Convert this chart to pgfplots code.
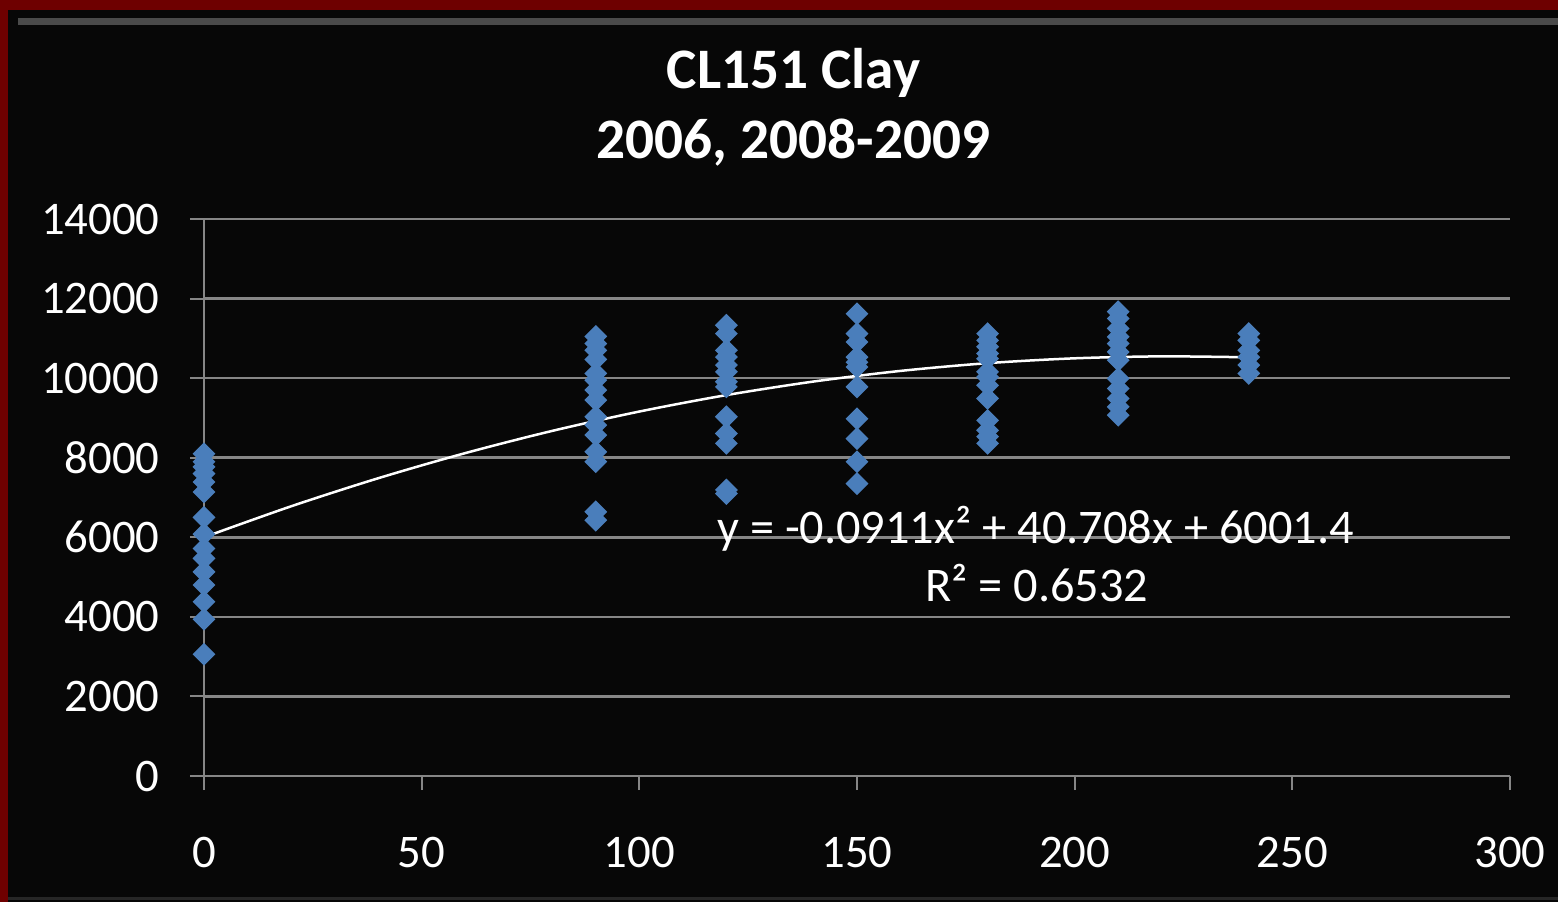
\documentclass[border=0pt]{standalone}
\usepackage{fontspec}
\setmainfont{Carlito}
\usepackage{pgfplots}
\pgfplotsset{compat=1.18}
\definecolor{bgc}{HTML}{070707}
\definecolor{frame}{HTML}{6E0000}
\definecolor{gridc}{HTML}{868686}
\definecolor{ptc}{HTML}{4A7EBB}
\definecolor{bevel}{HTML}{4A4A4A}
\begin{document}
\begin{tikzpicture}
\path[use as bounding box] (0,0) rectangle (155.8mm,-90.2mm);
\fill[frame] (0,0) rectangle (155.8mm,-90.2mm);
\fill[bgc] (0.8mm,-1.0mm) rectangle (155.8mm,-90.2mm);
\draw[bevel, line width=0.7mm] (1.8mm,-2.1mm) -- (155.8mm,-2.1mm);
\draw[black!85!white, line width=0.3mm] (0.8mm,-89.8mm) -- (155.8mm,-89.8mm);
\node[anchor=base, text=white, font=\fontsize{16.3}{19}\selectfont\bfseries] at (79.35mm,-8.8mm) {CL151 Clay};
\node[anchor=base, text=white, font=\fontsize{16.3}{19}\selectfont\bfseries] at (79.35mm,-15.8mm) {2006, 2008-2009};
\begin{axis}[
  at={(20.4mm,-77.6mm)}, anchor=south west,
  scale only axis, width=130.6mm, height=55.7mm,
  xmin=0, xmax=300, ymin=0, ymax=14000,
  xtick={0,50,...,300}, ytick={0,2000,...,14000},
  scaled y ticks=false,
  axis lines*=left,
  axis line style={gridc, line width=0.25mm},
  tick align=outside, major tick length=1.4mm,
  tick style={gridc, line width=0.2mm},
  ymajorgrids, major grid style={gridc, line width=0.25mm},
  /pgf/number format/assume math mode=true,
  /pgf/number format/1000 sep={},
  ticklabel style={text=white, font=\fontsize{13.3}{16}\selectfont},
  yticklabel style={xshift=-1.8mm},
  xticklabel style={yshift=-3.5mm},
  clip=false,
]
\addplot[only marks, mark=square*, mark size=2.1pt, mark options={rotate=45, fill=ptc, draw=ptc}] table {
x y
0 8100
0 7900
0 7770
0 7600
0 7390
0 7140
0 6500
0 6080
0 5720
0 5470
0 5130
0 4800
0 4380
0 3940
0 3060
90 11050
90 10870
90 10700
90 10470
90 10120
90 9950
90 9700
90 9450
90 9030
90 8820
90 8570
90 8150
90 7900
90 6640
90 6430
120 11330
120 11120
120 10700
120 10530
120 10330
120 10160
120 9910
120 9780
120 9030
120 8610
120 8360
120 7190
120 7100
150 11620
150 11120
150 10910
150 10530
150 10400
150 10280
150 9780
150 8980
150 8480
150 7900
150 7350
180 11120
180 10950
180 10790
180 10620
180 10490
180 10160
180 10030
180 9820
180 9490
180 8940
180 8690
180 8530
180 8360
210 11670
210 11500
210 11250
210 11040
210 10870
210 10660
210 10450
210 9990
210 9740
210 9490
210 9280
210 9070
240 11120
240 10950
240 10700
240 10530
240 10330
240 10120
};
\addplot[white, line width=0.25mm, smooth] coordinates {
(0,6001.4) (20,6779.1) (40,7484.0) (60,8115.9) (80,8675.0) (100,9161.2)
(120,9574.5) (140,9915.0) (160,10182.5) (180,10377.2) (200,10499.0)
(220,10547.9) (240,10524.0)
};
\node[anchor=base, text=white, font=\fontsize{13.75}{16}\selectfont] at (axis cs:191,5854) {y = -0.0911x² + 40.708x + 6001.4};
\node[anchor=base, text=white, font=\fontsize{13.75}{16}\selectfont] at (axis cs:191.3,4397) {R² = 0.6532};
\end{axis}
\end{tikzpicture}
\end{document}
